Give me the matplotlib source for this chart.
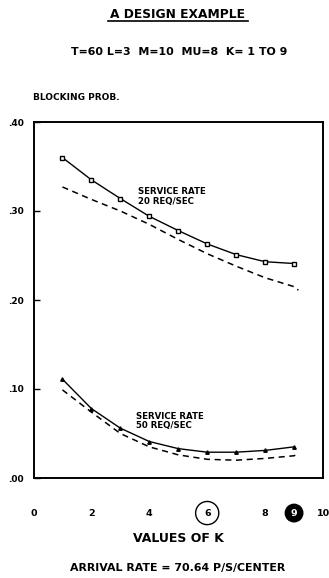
"""A design example: blocking probability vs K."""
import matplotlib
matplotlib.use("Agg")
import matplotlib.pyplot as plt
from matplotlib.lines import Line2D

# ── data ──────────────────────────────────────────────────────────────────────
K = [1, 2, 3, 4, 5, 6, 7, 8, 9]
K_DASH = [1, 2, 3, 4, 5, 6, 7, 8, 9, 9.15]

rate20_sim = [0.360, 0.335, 0.314, 0.294, 0.278, 0.263, 0.251, 0.243, 0.241]
rate20_approx = [0.327, 0.313, 0.300, 0.285, 0.268, 0.252, 0.238, 0.225, 0.215, 0.211]
rate50_sim = [0.111, 0.078, 0.056, 0.041, 0.033, 0.029, 0.029, 0.031, 0.035]
rate50_approx = [0.099, 0.074, 0.050, 0.035, 0.026, 0.021, 0.020, 0.022, 0.025, 0.027]

x_label_ticks = [0, 2, 4, 6, 8, 9, 10]
x_mark_ticks = [2, 4, 6, 8]
y_ticks = [0.0, 0.1, 0.2, 0.3, 0.4]
y_tick_labels = [".00", ".10", ".20", ".30", ".40"]

FONT = "DejaVu Sans"
W, H = 329, 578

fig = plt.figure(figsize=(W / 100, H / 100), dpi=100)
ax = fig.add_axes([33.5 / W, 1 - 478 / H, (323 - 33.5) / W, (478 - 122) / H])

# ── curves ───────────────────────────────────────────────────────────────────
ax.plot(K, rate20_sim, color="black", linewidth=1.0, marker="s", markersize=3.5,
        markerfacecolor="white", markeredgewidth=1.0)
ax.plot(K_DASH, rate20_approx, color="black", linewidth=1.1, linestyle=(0, (4, 3)))
ax.plot(K, rate50_sim, color="black", linewidth=1.0, marker="^", markersize=2.5)
ax.plot(K_DASH, rate50_approx, color="black", linewidth=1.1, linestyle=(0, (4, 3)))

ax.text(3.6, 0.316, "SERVICE RATE\n20 REQ/SEC", fontsize=6.2, fontweight="bold",
        family=FONT, ha="left", va="center", linespacing=1.1)
ax.text(3.55, 0.064, "SERVICE RATE\n50 REQ/SEC", fontsize=6.2, fontweight="bold",
        family=FONT, ha="left", va="center", linespacing=1.1)

# ── axes ─────────────────────────────────────────────────────────────────────
ax.set_xlim(0.04, 9.93)
ax.set_ylim(0, 0.40)
for s in ax.spines.values():
    s.set_linewidth(1.4)

ax.set_yticks(y_ticks)
ax.set_yticklabels(y_tick_labels, fontsize=6.5, fontweight="bold", family=FONT)
ax.tick_params(axis="y", direction="in", length=4, width=1.0, pad=7)

ax.set_xticks(x_label_ticks)
ax.set_xticklabels([str(v) for v in x_label_ticks], fontsize=6.8,
                   fontweight="bold", family=FONT)
ax.tick_params(axis="x", which="major", length=0, pad=22)
ax.set_xticks(x_mark_ticks, minor=True)
ax.tick_params(axis="x", which="minor", direction="in", length=10, width=1.2)

labels = ax.get_xticklabels()
labels[3].set_bbox(dict(boxstyle="circle,pad=0.75", fc="white", ec="black", lw=1.0))
labels[5].set_color("white")
labels[5].set_bbox(dict(boxstyle="circle,pad=0.45", fc="black", ec="black", lw=1.0))

# ── page text ────────────────────────────────────────────────────────────────
fig.text(178 / W, 1 - 14 / H, "A DESIGN EXAMPLE", fontsize=8.8, fontweight="bold",
         family=FONT, ha="center", va="center")
fig.add_artist(Line2D([108 / W, 248 / W], [1 - 21 / H, 1 - 21 / H],
                      color="black", linewidth=1.2))
fig.text(179 / W, 1 - 52 / H, "T=60 L=3  M=10  MU=8  K= 1 TO 9", fontsize=7.9,
         fontweight="bold", family=FONT, ha="center", va="center")
fig.text(33 / W, 1 - 97 / H, "BLOCKING PROB.", fontsize=6.5, fontweight="bold",
         family=FONT, ha="left", va="center")
fig.text(178 / W, 1 - 538 / H, "VALUES OF K", fontsize=9, fontweight="bold",
         family=FONT, ha="center", va="center")
fig.text(178 / W, 1 - 568 / H, "ARRIVAL RATE = 70.64 P/S/CENTER", fontsize=7.9,
         fontweight="bold", family=FONT, ha="center", va="center")

fig.savefig("out.png", dpi=100)
plt.close(fig)
